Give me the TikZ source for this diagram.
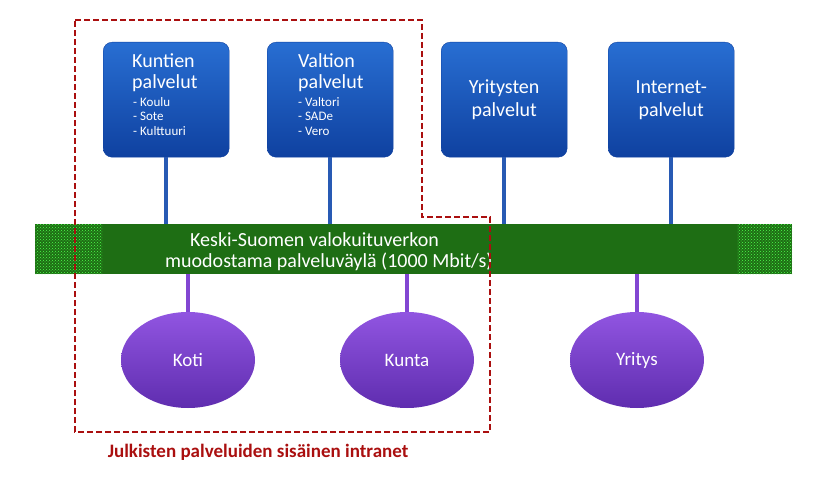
\documentclass[tikz,border=0pt]{standalone}
\usepackage{fontspec}
\setmainfont{Carlito}
\usetikzlibrary{patterns,shapes.geometric}
\definecolor{bluetop}{RGB}{40,110,210}
\definecolor{bluebot}{RGB}{15,65,160}
\definecolor{conblue}{RGB}{40,90,180}
\definecolor{bargreen}{RGB}{30,110,20}
\definecolor{purtop}{RGB}{145,85,225}
\definecolor{purbot}{RGB}{95,45,175}
\definecolor{purcon}{RGB}{130,70,210}
\definecolor{dred}{RGB}{170,15,15}
\begin{document}
\begin{tikzpicture}[x=1pt,y=-1pt,
 svc/.style={rounded corners=9pt,top color=bluetop,bottom color=bluebot,draw=bluebot,minimum width=126pt,minimum height=115pt,text=white,font=\fontsize{20}{23}\selectfont,align=center,anchor=north west},
 ttl/.style={font=\fontsize{20}{21}\selectfont,text=white,align=left,anchor=north west,inner sep=0},
 sub/.style={font=\fontsize{13}{14.5}\selectfont,text=white,align=left,anchor=north west,inner sep=0},
 ell/.style={ellipse,top color=purtop,bottom color=purbot,draw=none,minimum width=134pt,minimum height=96pt,text=white,font=\fontsize{19}{20}\selectfont},
 bartext/.style={text=white,font=\fontsize{20}{22}\selectfont,anchor=west,inner sep=0},
 bcon/.style={conblue,line width=4pt},
 pcon/.style={purcon,line width=4pt}]
\useasboundingbox (0,0) rectangle (830,484);
% bar
\node[fill=bargreen,minimum width=757pt,minimum height=50pt,anchor=north west,inner sep=0] (bar) at (35,224) {};
\fill[pattern=crosshatch dots,pattern color=green!70!white] (35,224) rectangle (102,274);
\fill[pattern=crosshatch dots,pattern color=green!70!white] (737,224) rectangle (792,274);
\node[bartext] (bt1) at (190,240) {Keski-Suomen valokuituverkon};
\node[bartext] (bt2) at (165,262) {muodostama palveluväylä (1000 Mbit/s)};
% services
\node[svc] (ku) at (103,42) {};
\node[ttl] (kut) at (132,53) {Kuntien\\palvelut};
\node[sub] (kul) at (133,97) {- Koulu\\- Sote\\- Kulttuuri};
\node[svc] (va) at (267,42) {};
\node[ttl] (vat) at (298,53) {Valtion\\palvelut};
\node[sub] (val) at (298,97) {- Valtori\\- SADe\\- Vero};
\node[svc] (yr) at (441,42) {Yritysten\\palvelut};
\node[svc] (in) at (608,42) {Internet-\\palvelut};
\foreach \n in {ku,va,yr,in} \draw[bcon] (\n.south) -- (\n.south |- bar.north);
% ellipses
\node[ell] (koti) at (188,360) {Koti};
\node[ell] (kunta) at (407,360) {Kunta};
\node[ell] (yrit) at (637,360) {Yritys};
\foreach \n in {koti,kunta,yrit} \draw[pcon] (\n.north |- bar.south) -- (\n.north);
% intranet
\draw[dred,line width=2pt,dash pattern=on 6pt off 3pt] (75,20) -- (422,20) -- (422,217) -- (490,217) -- (490,432) -- (75,432) -- cycle;
\node[text=dred,font=\bfseries\fontsize{19}{20}\selectfont] (lab) at (258,452) {Julkisten palveluiden sisäinen intranet};
\end{tikzpicture}
\end{document}
